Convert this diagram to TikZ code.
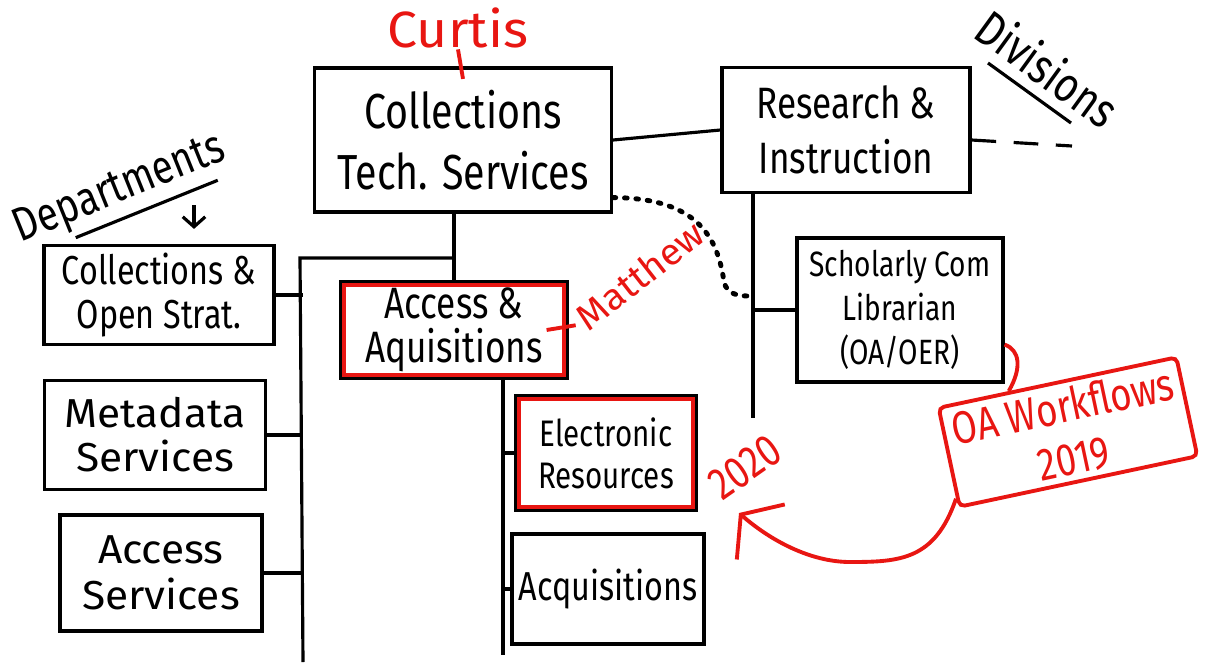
\documentclass[tikz,border=0pt]{standalone}
\usepackage{fontspec}
\setmainfont{Fira Sans}[FakeStretch=0.8]
\newfontfamily\wideface{Fira Sans}[FakeStretch=1.05]
\usetikzlibrary{arrows.meta,calc}
\definecolor{marker}{RGB}{232,22,18}

\begin{document}
\begin{tikzpicture}[x=0.2mm, y=-0.2mm]
    \tikzstyle{box}=[draw, line width=1.8pt, align=center, inner sep=0pt]
    \tikzstyle{pen}=[line width=1.8pt]
    \tikzstyle{redpen}=[marker, line width=2.2pt]
    \tikzstyle{note}=[text=marker]
    \useasboundingbox (0,0) rectangle (1205,666);

    % divisions
    \node (cts) at (463,140) [box, minimum width=5.94cm, minimum height=2.88cm,
        font=\fontsize{28}{35}\selectfont] {Collections\\Tech. Services};
    \node (ri) at (846,130) [box, minimum width=4.96cm, minimum height=2.5cm,
        font=\fontsize{25}{31}\selectfont] {Research \&\\Instruction};

    % departments
    \node (cos) at (159,295) [box, minimum width=4.6cm, minimum height=1.98cm,
        font=\fontsize{23}{25}\selectfont] {Collections \&\\Open Strat.};
    \node (meta) at (155,435) [box, minimum width=4.42cm, minimum height=2.18cm,
        font=\wideface\fontsize{23}{25}\selectfont] {Metadata\\Services};
    \node (as) at (161,573) [box, minimum width=4.04cm, minimum height=2.32cm,
        font=\wideface\fontsize{23}{26}\selectfont] {Access\\Services};
    \node (aa) at (454,330) [box, minimum width=4.54cm, minimum height=1.92cm,
        font=\fontsize{25}{25}\selectfont] {Access \&\\Aquisitions};
    \node (er) at (606,453) [box, minimum width=3.6cm, minimum height=2.28cm,
        font=\fontsize{21}{24}\selectfont] {Electronic\\Resources};
    \node (acq) at (608,589) [box, minimum width=3.84cm, minimum height=2.2cm,
        font=\fontsize{23}{25}\selectfont] {Acquisitions};
    \node (sc) at (900,310) [box, minimum width=4.12cm, minimum height=2.88cm,
        font=\fontsize{20}{25}\selectfont] {Scholarly Com\\Librarian\\(OA/OER)};

    % trunks
    \coordinate (lefttop) at (300,258);
    \coordinate (leftend) at (303,662);
    \coordinate (midend) at (503,655);
    \coordinate (rightend) at (753,418);
    \coordinate (divend) at (1072,146);

    \draw [pen] (cts.east) to (ri.west);
    \draw [pen, dash pattern=on 14pt off 10pt] ([yshift=-0.2cm]ri.east) to (divend);
    \draw [pen] (cts.south -| aa.north) to (aa.north);
    \draw [pen] (aa.north |- lefttop) -- (lefttop) -- (leftend);
    \foreach \dep in {cos, meta, as}
        \draw [pen] (\dep.east) to (\dep.east -| leftend);
    \draw [pen] (aa.south -| midend) to (midend);
    \foreach \dep in {er, acq}
        \draw [pen] (\dep.west -| midend) to (\dep.west);
    \draw [pen] (ri.south -| rightend) to (rightend);
    \draw [pen] (sc.west -| rightend) to (sc.west);

    \coordinate (dotend) at (748,296);
    \draw [line width=2.8pt, line cap=round, dash pattern=on 1.5pt off 5pt]
        ([yshift=0.32cm]cts.south east) .. controls (700,198) and (718,240) .. (724,282)
        .. controls (727,294) and (738,296) .. (dotend);

    % labels
    \node (dept) at (120,190) [rotate=22, font=\fontsize{27}{30}\selectfont] {Departments};
    \draw [pen] ($(dept.south west)!0.25!(dept.south east)$) to ($(dept.south west)!0.9!(dept.south east)$);
    \coordinate (deptarrow) at (194,205);
    \draw [pen, -{Straight Barb[length=0.2cm, width=0.45cm]}, shorten >=0.3cm]
        (deptarrow) to (deptarrow |- cos.north);

    \node (div) at (1048,68) [rotate=-36, font=\fontsize{28}{30}\selectfont] {Divisions};
    \draw [pen] ([shift={(-60,-5)}]div.center) to ([shift={(23,55)}]div.center);

    % red notes
    \node (curtis) at (458,28) [note, font=\wideface\fontsize{29}{30}\selectfont] {Curtis};
    \draw [redpen] ([yshift=0.1cm]curtis.south) to ([yshift=-0.25cm]cts.north);

    \foreach \dep in {aa, er}
        \draw [redpen] ([shift={(5,5)}]\dep.north west) rectangle ([shift={(-5,-5)}]\dep.south east);

    \node (matthew) at (640,275) [note, rotate=38, font=\wideface\fontsize{21}{24}\selectfont] {Matthew};
    \draw [redpen] ([xshift=-0.45cm]aa.east) to (matthew.west);

    \node (year20) at (745,467) [note, rotate=35, font=\fontsize{26}{28}\selectfont] {2020};

    \node (oa) at (1068,432) [draw=marker, text=marker, line width=2.2pt, rotate=12,
        minimum width=4.86cm, minimum height=2.02cm, align=center, rounded corners=3pt,
        font=\fontsize{26}{30}\selectfont] {OA Workflows\\2019};
    \draw [redpen] ([yshift=0.78cm]sc.south east) .. controls (1020,350) and (1022,368)
        .. ($(oa.north west)!0.3!(oa.north east)$);

    \coordinate (oatip) at (739,513);
    \draw [redpen, -{Straight Barb[length=0.53cm, width=1.46cm]}]
        ($(oa.south west)!0.1!(oa.north west)$) .. controls (935,560) and (900,562) .. (850,562)
        .. controls (810,562) and (770,540) .. (oatip);

\end{tikzpicture}
\end{document}
